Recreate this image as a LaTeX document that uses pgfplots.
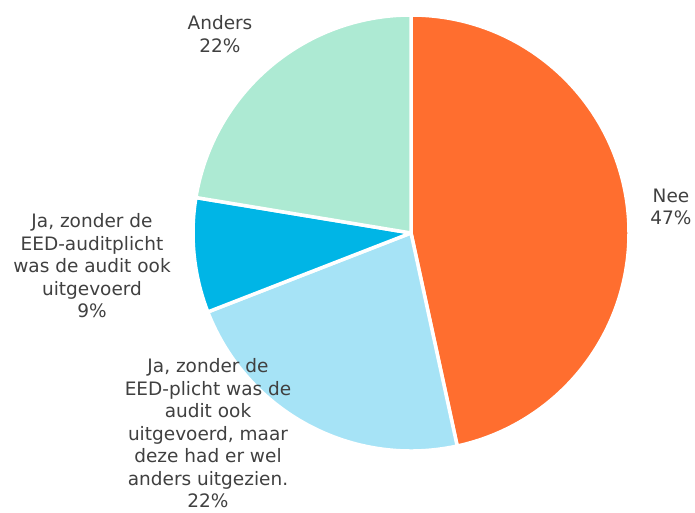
\documentclass[border=0pt]{standalone}
\usepackage{fontspec}
\setmainfont{DejaVu Sans}
\usepackage{pgfplots}
\pgfplotsset{compat=1.18}
\definecolor{cNee}{RGB}{255,110,47}
\definecolor{cLB}{RGB}{166,227,246}
\definecolor{cCy}{RGB}{0,181,230}
\definecolor{cAn}{RGB}{173,234,211}
\definecolor{txt}{RGB}{64,64,64}
% data (percentages)
\def\vNee{46.6}
\def\vB{22.5}
\def\vC{8.5}
\def\vAnders{22.4}
\pgfmathsetmacro\aA{90}
\pgfmathsetmacro\aB{\aA-3.6*\vNee}
\pgfmathsetmacro\aC{\aB-3.6*\vB}
\pgfmathsetmacro\aD{\aC-3.6*\vC}
\pgfmathsetmacro\dA{-3.6*\vNee}
\pgfmathsetmacro\dB{-3.6*\vB}
\pgfmathsetmacro\dC{-3.6*\vC}
\pgfmathsetmacro\dD{-3.6*\vAnders}
\begin{document}
\begin{tikzpicture}
\begin{axis}[
  width=695pt, height=513pt, scale only axis,
  xmin=0, xmax=695, ymin=0, ymax=513,
  hide axis, clip=false,
]
\addplot[draw=none] coordinates {(0,0) (695,513)};
\tikzset{wedge/.style={draw=white, line width=3.5pt, line join=round}}
\fill[cNee, wedge] (axis cs:411,280) -- ++(\aA:218pt) arc[start angle=\aA, delta angle=\dA, radius=218pt] -- cycle;
\fill[cLB, wedge] (axis cs:411,280) -- ++(\aB:218pt) arc[start angle=\aB, delta angle=\dB, radius=218pt] -- cycle;
\fill[cCy, wedge] (axis cs:411,280) -- ++(\aC:218pt) arc[start angle=\aC, delta angle=\dC, radius=218pt] -- cycle;
\fill[cAn, wedge] (axis cs:411,280) -- ++(\aD:218pt) arc[start angle=\aD, delta angle=\dD, radius=218pt] -- cycle;
\tikzset{lbl/.style={align=center, inner sep=0pt, text=txt, font=\fontsize{18.5}{22.5}\selectfont}}
\node[lbl] at (axis cs:671,306) {Nee\\47\%};
\node[lbl] at (axis cs:220,479) {Anders\\22\%};
\node[lbl] at (axis cs:92,247) {Ja, zonder de\\EED-auditplicht\\was de audit ook\\uitgevoerd\\9\%};
\node[lbl] at (axis cs:208,79.5) {Ja, zonder de\\EED-plicht was de\\audit ook\\uitgevoerd, maar\\deze had er wel\\anders uitgezien.\\22\%};
\end{axis}
\end{tikzpicture}
\end{document}
